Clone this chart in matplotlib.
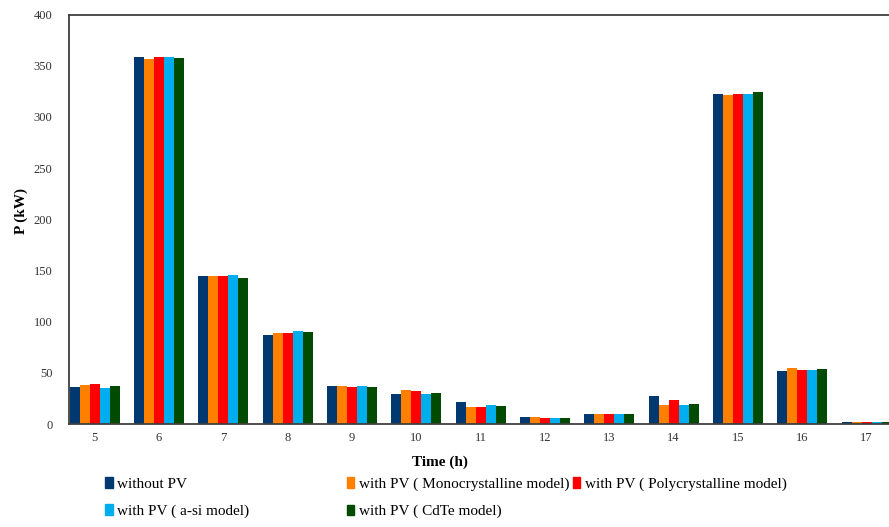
import numpy as np
import matplotlib.pyplot as plt
from matplotlib.patches import Patch

plt.rcParams['font.family'] = 'Liberation Serif'

hours = [5, 6, 7, 8, 9, 10, 11, 12, 13, 14, 15, 16, 17]
without_pv = [36, 359, 145, 87, 37, 29, 22, 7, 9.5, 27, 322, 52, 1.5]
mono = [38, 357, 145, 89, 37, 33.5, 17, 6.5, 9.5, 19, 321, 55, 1.5]
poly = [39, 359, 145, 89, 36, 32.5, 17, 6, 9.5, 23, 322, 53, 1.5]
asi = [35, 359, 146, 91, 37, 29, 19, 6, 9.5, 19, 322, 53, 1.5]
cdte = [37, 358, 143, 90, 36.5, 30, 18, 5.5, 9.5, 19.5, 324, 53.5, 1.5]

series = [without_pv, mono, poly, asi, cdte]
labels = ['without PV', 'with PV ( Monocrystalline model)', 'with PV ( Polycrystalline model)',
          'with PV ( a-si model)', 'with PV ( CdTe model)']
colors = ['#00386F', '#FF8000', '#FF0000', '#00AEEF', '#004B00']

fig = plt.figure(figsize=(8.89, 5.27), dpi=100)
ax = fig.add_axes([0.0776, 0.1954, 0.937, 0.777])

# grouped bars, five per hour
x = np.array(hours, dtype=float)
w = 0.155
for i, (vals, c) in enumerate(zip(series, colors)):
    ax.bar(x + (i - 2) * w, vals, width=w, color=c, linewidth=0)

ax.set_xlim(4.6, 17.55)
ax.set_ylim(0, 400)
ax.set_xticks(hours)
ax.set_yticks(range(0, 401, 50))
ax.tick_params(length=0, labelsize=9, colors='#333333')
ax.tick_params(axis='x', pad=6)
ax.tick_params(axis='y', pad=12)
for s in ['left', 'bottom', 'top']:
    ax.spines[s].set_color('#404040')
    ax.spines[s].set_linewidth(1.3)
ax.spines['right'].set_visible(False)

fig.text(0.495, 0.123, 'Time (h)', ha='center', va='center', fontsize=11, fontweight='bold')
fig.text(0.024, 0.60, 'P (kW)', ha='center', va='center', rotation=90, fontsize=11, fontweight='bold')

# legend as three separate columns so the column widths match the reference
handles = [Patch(color=c) for c in colors]
cols = [([0, 3], 0.118), ([1, 4], 0.39), ([2], 0.644)]
for idx, xpos in cols:
    fig.legend([handles[k] for k in idx], [labels[k] for k in idx],
               loc='upper left', bbox_to_anchor=(xpos, 0.095), frameon=False,
               fontsize=11, handlelength=0.5, handleheight=0.7, handletextpad=0.3,
               labelspacing=0.9, borderaxespad=0, borderpad=0)

plt.savefig('out.png', dpi=100)
